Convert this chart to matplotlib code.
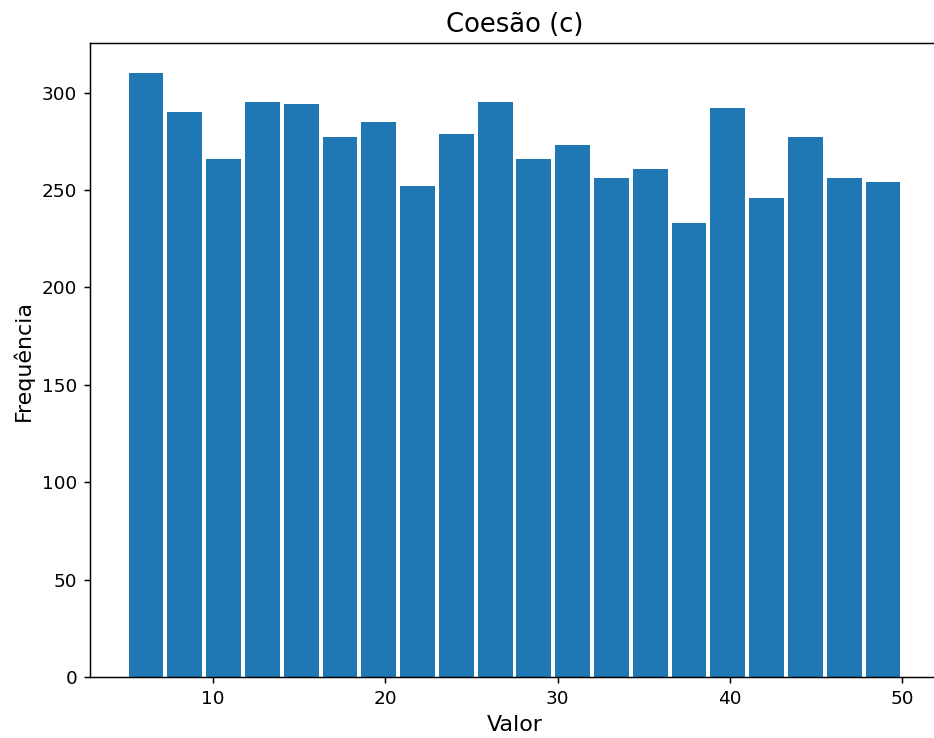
# Histograma da coesão (c)

import matplotlib
matplotlib.use('Agg')
import matplotlib.pyplot as plt
import numpy as np

# Limites dos intervalos e contagens
bin_start = 5
bin_end = 50
n_bins = 20
frequencias = [310, 290, 266, 295, 294, 277, 285, 252, 279, 295,
               266, 273, 256, 261, 233, 292, 246, 277, 256, 254]

edges = np.linspace(bin_start, bin_end, n_bins + 1)
centros = (edges[:-1] + edges[1:]) / 2

dpi = 133
fig = plt.figure(figsize=(934 / dpi, 738 / dpi), dpi=dpi)
# eixo um pouco além da borda direita, como na imagem recortada
ax = fig.add_axes([90 / 934, 1 - 677 / 738, 849 / 934, 634 / 738])

ax.hist(centros, bins=edges, weights=frequencias, rwidth=0.9)

ax.set_title('Coesão (c)', fontsize=14)
ax.set_xlabel('Valor', fontsize=12)
ax.set_ylabel('Frequência', fontsize=12)

fig.savefig('out.png', dpi=dpi)
